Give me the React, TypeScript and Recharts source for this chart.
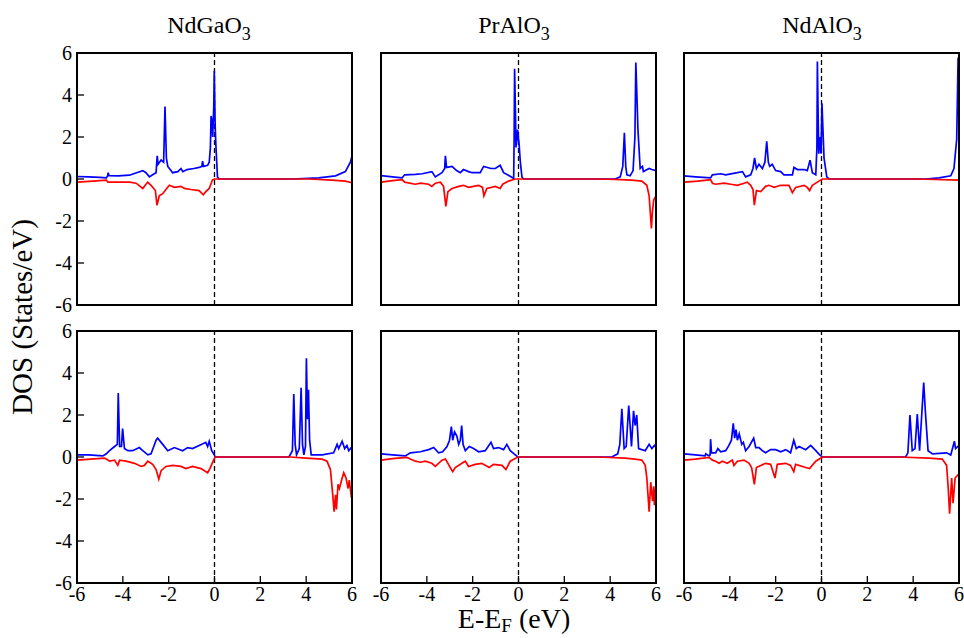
import React from 'react';
import { LineChart, Line, XAxis, YAxis, ReferenceLine } from 'recharts';

type Pt = { e: number; dos: number };
const toPts = (a: number[][]): Pt[] => a.map(([e, dos]) => ({ e, dos }));

const axisTicks = [-6, -4, -2, 0, 2, 4, 6];
const compounds = ['NdGaO', 'PrAlO', 'NdAlO'];

// top row, spin up / spin down  [E - Ef (eV), DOS]
const ndGaTopUp = [[-6,0.12],[-5.5,0.1],[-5,0.08],[-4.72,0.05],[-4.66,0.16],[-4.64,0.3],[-4.6,0.16],[-4.2,0.15],[-3.71,0.18],[-3.4,0.3],[-3.13,0.4],[-2.99,0.3],[-2.84,0.1],[-2.7,0.2],[-2.55,0.3],[-2.5,1.1],[-2.46,0.7],[-2.33,0.9],[-2.22,0.8],[-2.16,3.45],[-2.1,1.0],[-2.04,0.6],[-1.9,0.4],[-1.83,0.3],[-1.6,0.35],[-1.46,0.5],[-1.38,0.35],[-1.2,0.45],[-0.9,0.5],[-0.67,0.55],[-0.55,0.6],[-0.52,0.85],[-0.48,0.6],[-0.3,0.65],[-0.23,0.8],[-0.18,1.5],[-0.15,3.0],[-0.12,2.8],[-0.08,2.0],[-0.03,3.5],[-0.01,5.15],[0.03,2.5],[0.06,1.6],[0.13,0.1],[0.2,0],[3.4,0],[4.55,0.05],[5.28,0.15],[5.71,0.35],[5.93,0.8],[6,1.1]];
const ndGaTopDn = [[-6,-0.15],[-5.3,-0.1],[-4.72,-0.05],[-4.65,-0.15],[-4.2,-0.15],[-3.71,-0.15],[-3.42,-0.2],[-3.13,-0.45],[-2.99,-0.25],[-2.91,-0.15],[-2.77,-0.3],[-2.58,-0.55],[-2.51,-1.25],[-2.41,-0.8],[-2.26,-0.7],[-2.12,-0.5],[-1.97,-0.3],[-1.75,-0.4],[-1.46,-0.35],[-1.32,-0.45],[-1.03,-0.5],[-0.67,-0.55],[-0.49,-0.75],[-0.38,-0.6],[-0.23,-0.45],[-0.09,-0.05],[0,0],[4.12,0],[5.13,-0.05],[5.71,-0.1],[6,-0.18]];

const prAlTopUp = [[-6,0.16],[-5.5,0.1],[-5.08,0.05],[-4.97,0.2],[-4.5,0.22],[-4.2,0.25],[-3.78,0.35],[-3.63,0.1],[-3.34,0.3],[-3.22,0.5],[-3.19,1.1],[-3.14,0.55],[-2.9,0.6],[-2.7,0.4],[-2.54,0.3],[-2.4,0.45],[-2.18,0.35],[-2.03,0.3],[-1.67,0.3],[-1.6,0.45],[-1.52,0.6],[-1.2,0.5],[-1.01,0.5],[-0.8,0.65],[-0.65,0.3],[-0.4,0.15],[-0.21,0.02],[-0.19,2.0],[-0.17,5.25],[-0.13,3.0],[-0.11,1.5],[-0.06,2.0],[-0.04,2.35],[0.03,1.6],[0.08,0.8],[0.15,0.1],[0.22,0],[4.22,0],[4.44,0.1],[4.55,0.6],[4.62,2.2],[4.68,0.6],[4.73,0.2],[4.87,0.15],[5.0,0.4],[5.08,2.0],[5.12,5.55],[5.18,3.5],[5.21,2.4],[5.31,0.5],[5.41,0.6],[5.45,0.35],[5.53,0.4],[5.7,0.5],[5.82,0.45],[6,0.4]];
const prAlTopDn = [[-6,-0.15],[-5.5,-0.08],[-5.08,-0.03],[-4.97,-0.15],[-4.5,-0.25],[-4.28,-0.2],[-3.92,-0.25],[-3.78,-0.35],[-3.63,-0.2],[-3.41,-0.15],[-3.27,-0.35],[-3.17,-1.3],[-3.08,-0.6],[-2.9,-0.45],[-2.61,-0.35],[-2.4,-0.3],[-2.18,-0.4],[-1.74,-0.3],[-1.57,-0.4],[-1.51,-0.8],[-1.38,-0.45],[-1.01,-0.35],[-0.8,-0.45],[-0.69,-0.25],[-0.43,-0.1],[-0.15,0],[3.49,0],[4.22,-0.02],[4.94,-0.05],[5.38,-0.1],[5.6,-0.3],[5.7,-0.8],[5.8,-2.35],[5.84,-1.6],[5.9,-1.0],[6,-0.8]];

const ndAlTopUp = [[-6,0.15],[-5.5,0.1],[-4.84,0.05],[-4.76,0.2],[-4.4,0.25],[-4.18,0.2],[-3.67,0.3],[-3.45,0.35],[-3.31,0.1],[-3.09,0.2],[-2.99,0.5],[-2.92,1.0],[-2.84,0.5],[-2.73,0.7],[-2.58,0.5],[-2.47,0.8],[-2.39,1.8],[-2.32,0.8],[-2.26,0.6],[-2.15,0.7],[-2.0,0.4],[-1.78,0.35],[-1.64,0.2],[-1.27,0.2],[-1.2,0.55],[-1.05,0.45],[-0.76,0.45],[-0.62,0.4],[-0.5,0.9],[-0.4,0.3],[-0.25,0.2],[-0.2,1.5],[-0.18,5.6],[-0.14,2.5],[-0.12,1.2],[-0.07,2.0],[-0.02,1.2],[0.02,3.6],[0.11,1.0],[0.23,0.1],[0.33,0],[4.55,0],[5.13,0.05],[5.64,0.15],[5.78,0.5],[5.9,1.9],[5.96,5.75],[6,5.8]];
const ndAlTopDn = [[-6,-0.15],[-5.4,-0.1],[-4.84,-0.03],[-4.76,-0.2],[-4.62,-0.25],[-4.25,-0.2],[-3.96,-0.25],[-3.67,-0.3],[-3.38,-0.2],[-3.24,-0.15],[-3.09,-0.3],[-2.99,-0.5],[-2.93,-1.25],[-2.84,-0.55],[-2.65,-0.6],[-2.44,-0.35],[-2.29,-0.3],[-2.07,-0.4],[-1.78,-0.3],[-1.42,-0.3],[-1.27,-0.65],[-1.13,-0.4],[-0.76,-0.3],[-0.62,-0.4],[-0.52,-0.55],[-0.4,-0.3],[-0.11,-0.1],[0.04,0],[4.2,0],[6,-0.05]];

// bottom row
const ndGaBotUp = [[-6,0.1],[-5.5,0.1],[-4.87,0.05],[-4.72,0.15],[-4.58,0.3],[-4.36,0.5],[-4.24,0.6],[-4.2,3.05],[-4.14,0.5],[-4.06,0.5],[-4.01,1.35],[-3.93,0.4],[-3.78,0.3],[-3.57,0.3],[-3.28,0.45],[-3.13,0.3],[-2.91,0.1],[-2.77,0.15],[-2.65,0.5],[-2.55,0.8],[-2.48,0.9],[-2.26,0.6],[-2.04,0.3],[-1.75,0.45],[-1.39,0.3],[-1.17,0.45],[-0.96,0.4],[-0.67,0.55],[-0.38,0.7],[-0.3,0.5],[-0.23,0.75],[-0.12,0.3],[-0.01,0.1],[0.03,0],[3.25,0],[3.4,0.3],[3.46,3.0],[3.52,0.6],[3.58,0.1],[3.7,0.4],[3.78,3.3],[3.84,0.6],[3.9,0.1],[3.97,0.5],[4.01,4.7],[4.06,1.8],[4.1,3.2],[4.15,0.8],[4.22,0.1],[4.7,0.1],[5.2,0.2],[5.35,0.6],[5.42,0.4],[5.57,0.75],[5.68,0.4],[5.78,0.55],[5.86,0.3],[6,0.5]];
const ndGaBotDn = [[-6,-0.15],[-5.4,-0.1],[-4.8,-0.05],[-4.72,-0.1],[-4.58,-0.2],[-4.36,-0.15],[-4.22,-0.4],[-4.14,-0.15],[-3.86,-0.2],[-3.49,-0.3],[-3.2,-0.45],[-3.06,-0.4],[-2.91,-0.2],[-2.7,-0.35],[-2.55,-0.6],[-2.43,-1.05],[-2.33,-0.65],[-2.12,-0.45],[-1.83,-0.4],[-1.46,-0.45],[-1.25,-0.55],[-0.96,-0.45],[-0.59,-0.55],[-0.3,-0.75],[-0.2,-0.55],[-0.06,-0.2],[0.03,0],[3.3,0],[4.0,-0.05],[4.7,-0.1],[4.91,-0.2],[5.06,-0.6],[5.16,-1.8],[5.22,-2.6],[5.28,-1.8],[5.32,-2.5],[5.39,-1.3],[5.45,-1.5],[5.57,-1.0],[5.64,-0.75],[5.74,-1.0],[5.83,-1.5],[5.88,-1.1],[5.97,-1.9],[6,-2.0]];

const prAlBotUp = [[-6,0.15],[-5.5,0.1],[-4.94,0.05],[-4.72,0.2],[-4.28,0.25],[-3.92,0.35],[-3.7,0.45],[-3.49,0.2],[-3.31,0.25],[-3.12,0.5],[-3.01,0.8],[-2.93,1.45],[-2.87,0.8],[-2.79,1.2],[-2.69,1.0],[-2.61,0.6],[-2.54,0.8],[-2.48,1.5],[-2.42,0.6],[-2.32,0.3],[-2.15,0.5],[-1.96,0.4],[-1.74,0.25],[-1.45,0.3],[-1.2,0.7],[-1.09,0.4],[-0.87,0.45],[-0.65,0.35],[-0.51,0.6],[-0.36,0.3],[-0.14,0.1],[-0.03,0],[4.07,0],[4.33,0.15],[4.42,0.6],[4.51,2.3],[4.61,0.4],[4.7,0.5],[4.81,2.45],[4.87,1.5],[4.93,0.5],[5.02,2.2],[5.09,1.5],[5.16,2.0],[5.24,0.4],[5.53,0.3],[5.7,0.6],[5.82,0.4],[5.93,0.55],[6,0.45]];
const prAlBotDn = [[-6,-0.15],[-5.5,-0.08],[-4.87,-0.02],[-4.72,-0.1],[-4.5,-0.2],[-4.28,-0.25],[-4.07,-0.2],[-3.78,-0.3],[-3.63,-0.45],[-3.34,-0.15],[-3.19,-0.1],[-3.08,-0.3],[-2.98,-0.5],[-2.87,-0.7],[-2.76,-0.5],[-2.47,-0.3],[-2.32,-0.2],[-2.18,-0.45],[-1.89,-0.35],[-1.6,-0.3],[-1.28,-0.5],[-1.09,-0.35],[-0.72,-0.4],[-0.55,-0.6],[-0.36,-0.2],[-0.03,0],[3.5,0],[4.65,-0.05],[5.09,-0.1],[5.38,-0.15],[5.53,-0.4],[5.6,-1.0],[5.7,-2.6],[5.77,-1.2],[5.85,-2.1],[5.9,-1.4],[5.93,-2.3],[6,-1.3]];

const ndAlBotUp = [[-6,0.15],[-5.5,0.1],[-5.08,0.05],[-5.05,0.15],[-4.91,0.05],[-4.86,0.1],[-4.84,0.85],[-4.8,0.2],[-4.62,0.2],[-4.52,0.4],[-4.4,0.25],[-4.18,0.3],[-4.04,0.55],[-3.93,0.8],[-3.85,1.6],[-3.79,0.9],[-3.73,1.3],[-3.67,0.8],[-3.59,1.1],[-3.48,0.6],[-3.41,0.7],[-3.31,0.3],[-3.16,0.5],[-2.96,0.9],[-2.87,0.45],[-2.73,0.45],[-2.58,0.3],[-2.44,0.2],[-2.22,0.35],[-2.0,0.35],[-1.78,0.25],[-1.56,0.35],[-1.35,0.2],[-1.21,0.8],[-1.1,0.4],[-0.98,0.5],[-0.69,0.35],[-0.47,0.55],[-0.25,0.3],[-0.08,0.1],[0.04,0],[3.67,0],[3.77,0.2],[3.86,2.0],[3.96,0.3],[4.08,0.4],[4.18,2.05],[4.28,0.3],[4.39,2.3],[4.46,3.55],[4.53,2.2],[4.65,0.3],[4.84,0.15],[5.46,0.2],[5.64,0.1],[5.8,0.75],[5.85,0.4],[6,0.55]];
const ndAlBotDn = [[-6,-0.15],[-5.5,-0.1],[-4.91,-0.02],[-4.76,-0.15],[-4.62,-0.2],[-4.47,-0.3],[-4.33,-0.2],[-4.11,-0.3],[-3.89,-0.15],[-3.82,-0.4],[-3.67,-0.2],[-3.38,-0.15],[-3.16,-0.3],[-3.05,-0.5],[-2.93,-1.3],[-2.84,-0.5],[-2.65,-0.4],[-2.44,-0.3],[-2.22,-0.35],[-2.03,-1.0],[-1.93,-0.35],[-1.56,-0.3],[-1.35,-0.4],[-1.21,-0.7],[-1.13,-0.35],[-0.69,-0.5],[-0.52,-0.55],[-0.25,-0.2],[0.04,0],[3.38,0],[4.69,-0.05],[5.27,-0.1],[5.46,-0.4],[5.53,-1.5],[5.59,-2.7],[5.68,-1.0],[5.74,-2.2],[5.83,-1.0],[6,-0.8]];

const FONT = '"Liberation Serif", "Times New Roman", serif';
const PW = 275;
const PH = 252;
const L = 40, R = 12, T = 16, B = 30;
const colX = [77.3, 380.7, 683.7];
const rowY = [53.3, 330.7];
const titleX = [209, 514, 822];

const frame = { stroke: '#000', strokeWidth: 2, strokeLinecap: 'square' as const };
const tickLn = { stroke: '#000', strokeWidth: 1.3 };

// serif tick labels drawn by hand so the font is sure to stick
const XTick = (p: any) => (
  <text x={p.x} y={p.y} dy="0.71em" textAnchor="middle" fontFamily={FONT} fontSize={20} fill="#000">
    {p.payload.value}
  </text>
);
const YTick = (p: any) => (
  <text x={p.x} y={p.y} dy="0.34em" textAnchor="end" fontFamily={FONT} fontSize={20} fill="#000">
    {p.payload.value}
  </text>
);

function Panel({ up, dn, x, y, showX, showY }: { up: number[][]; dn: number[][]; x: number; y: number; showX: boolean; showY: boolean }) {
  return (
    <div style={{ position: 'absolute', left: x - L, top: y - T }}>
      <LineChart width={PW + L + R} height={PH + T + B} margin={{ top: 0, right: 0, bottom: 0, left: 0 }}>
        <XAxis xAxisId="b" type="number" dataKey="e" domain={[-6, 6]} ticks={axisTicks} allowDataOverflow
          orientation="bottom" height={B} axisLine={frame} tickLine={tickLn} tickSize={-7} tickMargin={11}
          tick={showX ? XTick : false} interval={0} />
        <XAxis xAxisId="t" type="number" domain={[-6, 6]} ticks={axisTicks} allowDataOverflow
          orientation="top" height={T} axisLine={frame} tickLine={tickLn} tickSize={-7} tick={false} />
        <YAxis yAxisId="l" type="number" domain={[-6, 6]} ticks={axisTicks} allowDataOverflow
          orientation="left" width={L} axisLine={frame} tickLine={tickLn} tickSize={-7} tickMargin={12}
          tick={showY ? YTick : false} interval={0} />
        <YAxis yAxisId="r" type="number" domain={[-6, 6]} ticks={axisTicks} allowDataOverflow
          orientation="right" width={R} axisLine={frame} tickLine={tickLn} tickSize={-7} tick={false} />
        <ReferenceLine xAxisId="b" yAxisId="l" x={0} stroke="#000" strokeWidth={1.3} strokeDasharray="5 3" />
        <Line xAxisId="b" yAxisId="l" data={toPts(up)} dataKey="dos" type="linear" stroke="#0000ff"
          strokeWidth={1.7} dot={false} isAnimationActive={false} />
        <Line xAxisId="b" yAxisId="l" data={toPts(dn)} dataKey="dos" type="linear" stroke="#ff0000"
          strokeWidth={1.7} dot={false} isAnimationActive={false} />
      </LineChart>
    </div>
  );
}

const topRow = [[ndGaTopUp, ndGaTopDn], [prAlTopUp, prAlTopDn], [ndAlTopUp, ndAlTopDn]];
const botRow = [[ndGaBotUp, ndGaBotDn], [prAlBotUp, prAlBotDn], [ndAlBotUp, ndAlBotDn]];

export default function App() {
  return (
    <div style={{ position: 'absolute', left: 0, top: 0, width: 964, height: 638, background: '#fff', overflow: 'hidden', fontFamily: FONT }}>
      {[topRow, botRow].map((row, ri) =>
        row.map(([up, dn], ci) => (
          <Panel key={`${ri}-${ci}`} up={up} dn={dn} x={colX[ci]} y={rowY[ri]} showX={ri === 1} showY={ci === 0} />
        ))
      )}
      <svg width={964} height={638} style={{ position: 'absolute', left: 0, top: 0, pointerEvents: 'none' }}>
        {compounds.map((c, i) => (
          <text key={c} x={titleX[i]} y={33} textAnchor="middle" fontFamily={FONT} fontSize={24} fill="#000">
            {c}<tspan fontSize={18} dy={7}>3</tspan>
          </text>
        ))}
        <text transform="translate(32,317) rotate(-90)" textAnchor="middle" fontFamily={FONT} fontSize={29} fill="#000">
          DOS (States/eV)
        </text>
        <text x={514} y={628} textAnchor="middle" fontFamily={FONT} fontSize={28} fill="#000">
          E-E<tspan fontSize={19} dy={4}>F</tspan><tspan dy={-4}> (eV)</tspan>
        </text>
      </svg>
    </div>
  );
}
